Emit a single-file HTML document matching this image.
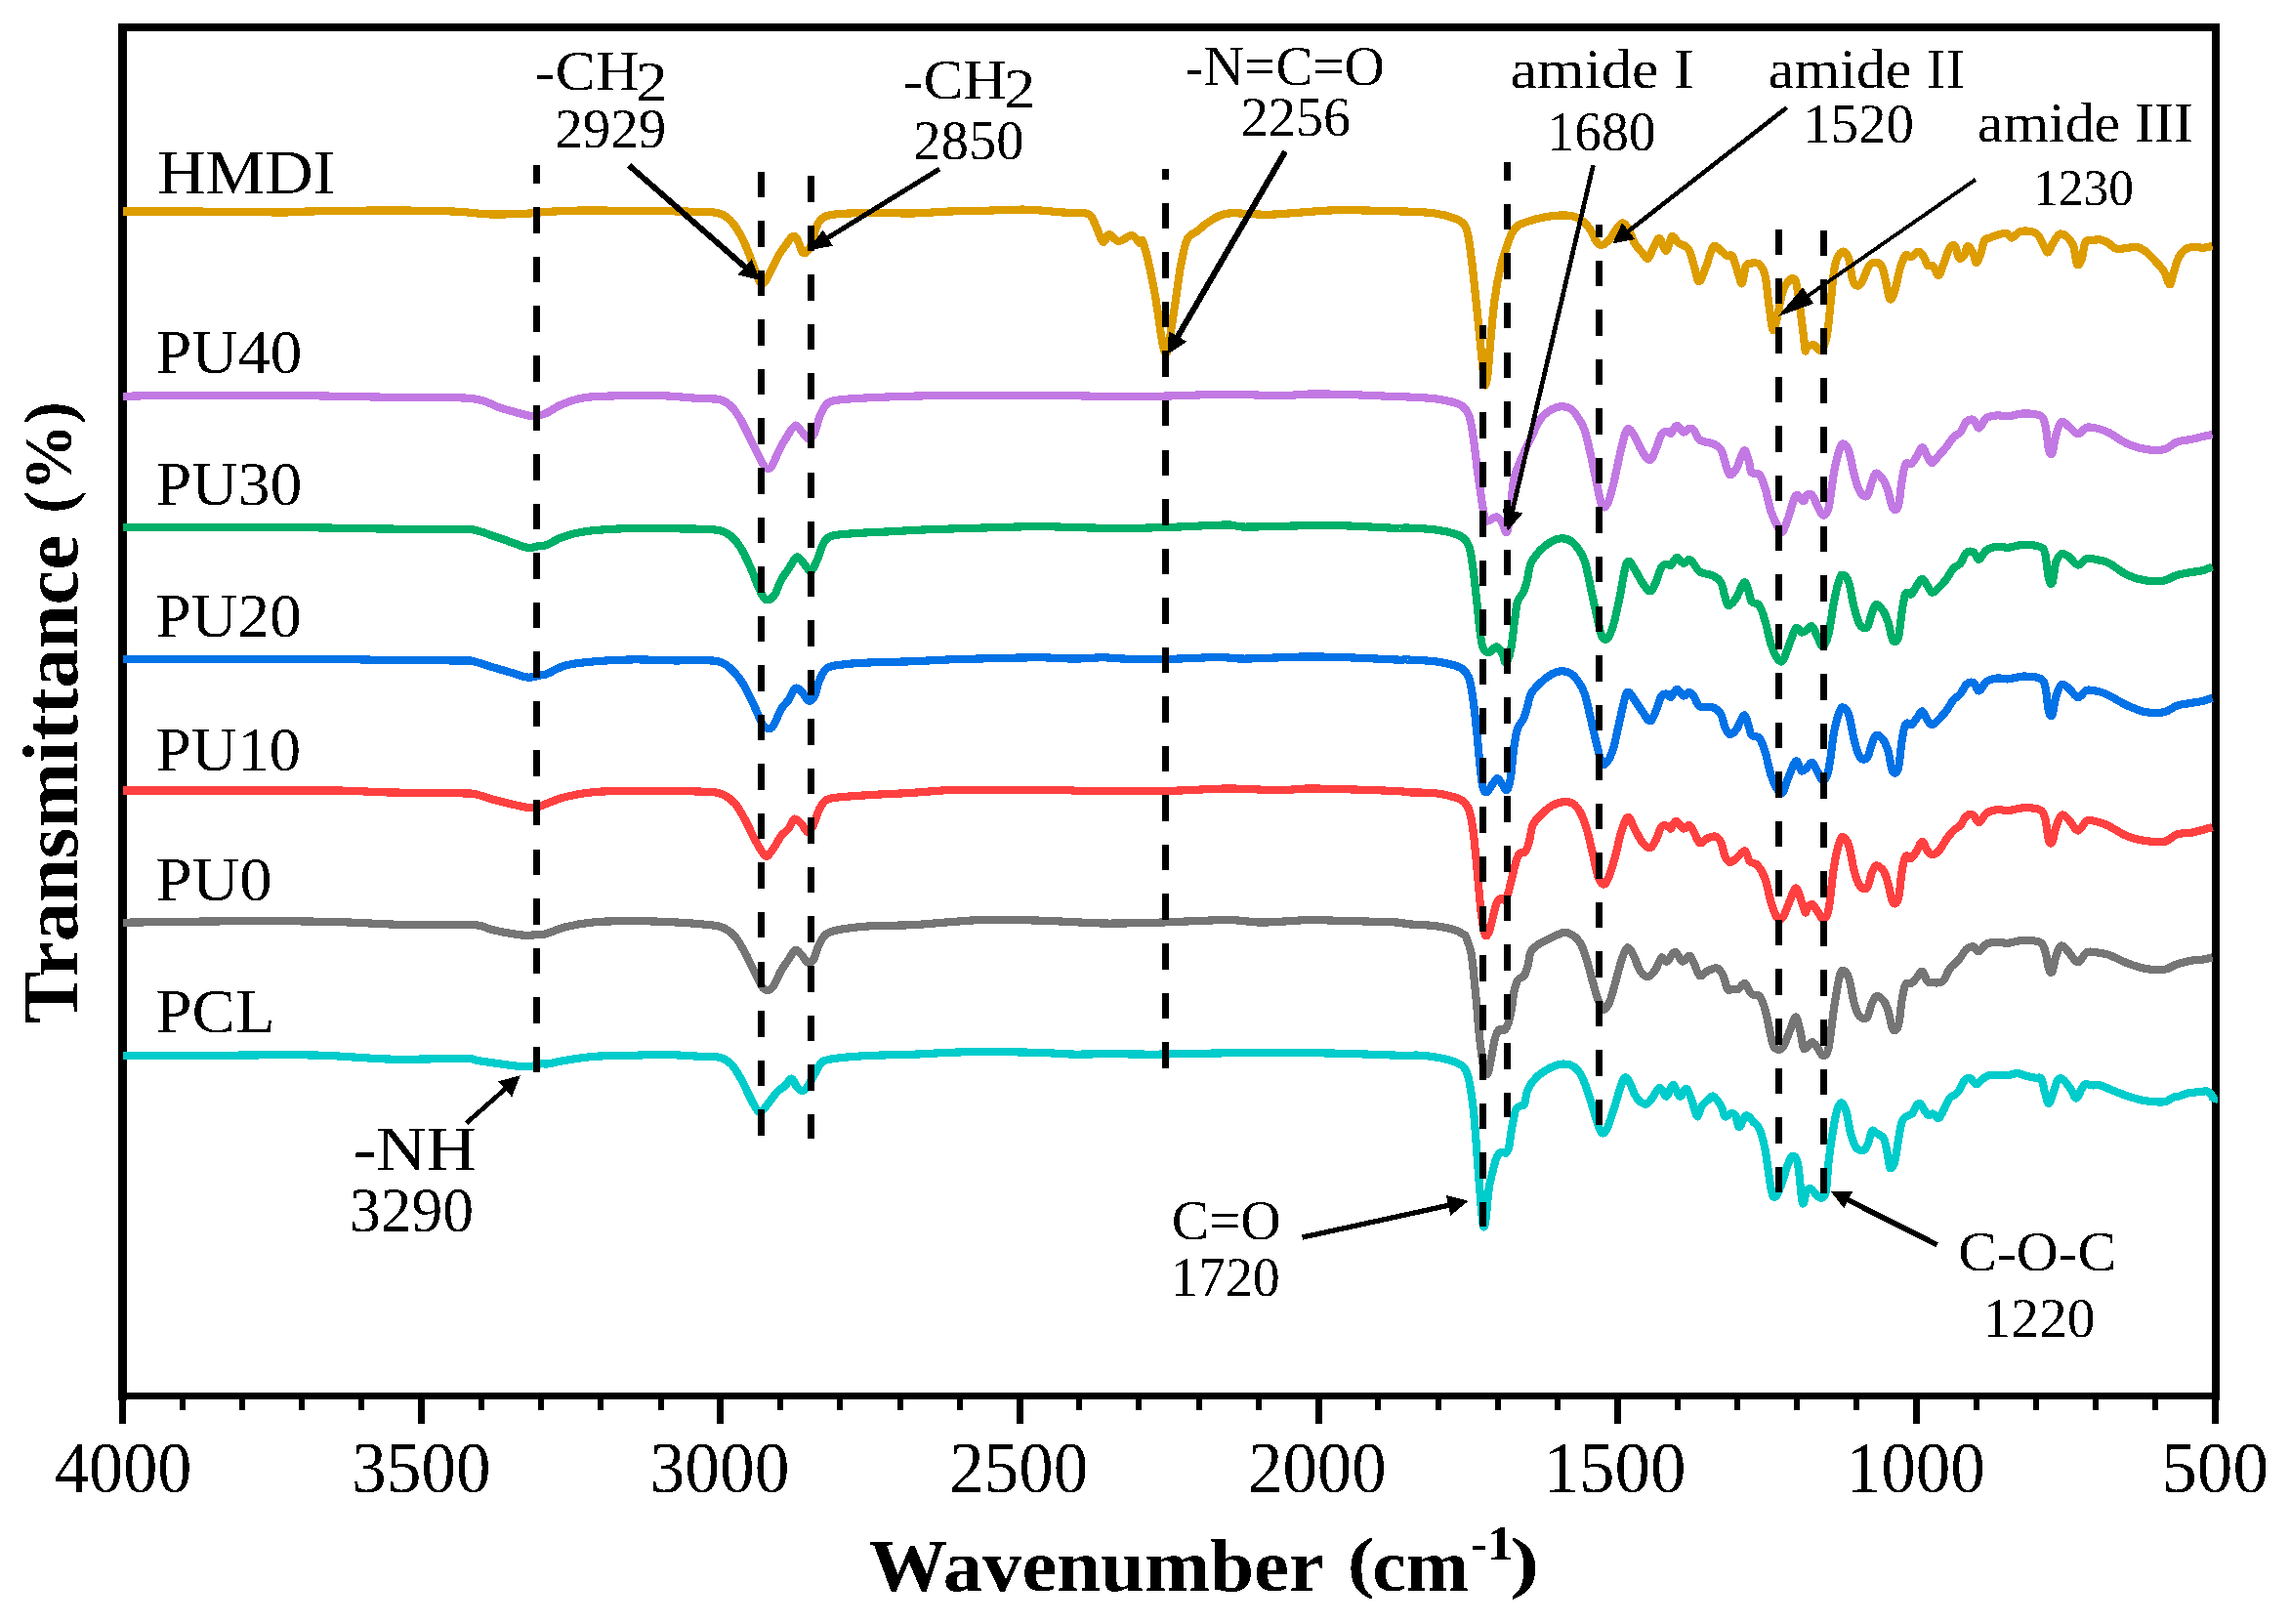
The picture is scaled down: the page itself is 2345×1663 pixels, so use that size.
<!DOCTYPE html>
<html><head><meta charset="utf-8"><title>FTIR spectra</title>
<style>html,body{margin:0;padding:0;background:#fff;}svg{display:block;}text{font-family:'Liberation Serif', 'Times New Roman', serif;fill:#000;}</style>
</head><body>
<svg xmlns="http://www.w3.org/2000/svg" width="2345" height="1663" viewBox="0 0 2345 1663" shape-rendering="crispEdges">
<rect width="2345" height="1663" fill="#fff"/>
<path d="M121 24H2273V32H121Z M121 1426H2273V1433H121Z M121 24H130V1434H121Z M2265 24H2273V1434H2265Z" fill="#000"/>
<path d="M122 1433H129V1458H122Z M184 1433H190V1444H184Z M245 1433H251V1444H245Z M306 1433H312V1444H306Z M367 1433H373V1444H367Z M428 1433H435V1458H428Z M490 1433H496V1444H490Z M551 1433H557V1444H551Z M612 1433H618V1444H612Z M674 1433H680V1444H674Z M734 1433H741V1458H734Z M796 1433H802V1444H796Z M857 1433H863V1444H857Z M919 1433H925V1444H919Z M980 1433H986V1444H980Z M1041 1433H1048V1458H1041Z M1102 1433H1108V1444H1102Z M1163 1433H1169V1444H1163Z M1225 1433H1231V1444H1225Z M1286 1433H1292V1444H1286Z M1347 1433H1354V1458H1347Z M1408 1433H1414V1444H1408Z M1470 1433H1476V1444H1470Z M1531 1433H1537V1444H1531Z M1592 1433H1598V1444H1592Z M1653 1433H1660V1458H1653Z M1715 1433H1721V1444H1715Z M1776 1433H1782V1444H1776Z M1837 1433H1843V1444H1837Z M1898 1433H1904V1444H1898Z M1959 1433H1966V1458H1959Z M2021 1433H2027V1444H2021Z M2082 1433H2088V1444H2082Z M2143 1433H2149V1444H2143Z M2204 1433H2210V1444H2204Z M2265 1433H2272V1458H2265Z" fill="#000"/>
<path d="M126.0 216.5C138.1 216.5 171.8 216.3 198.6 216.5C225.4 216.7 267.4 217.5 287.0 217.5C306.6 217.5 298.5 216.8 316.5 216.5C334.5 216.2 370.5 215.5 395.1 215.5C419.7 215.5 445.9 215.8 463.9 216.5C481.9 217.2 490.1 219.2 503.2 219.5C516.3 219.8 533.0 218.9 542.5 218.5C552.0 218.1 550.5 217.4 560.0 216.9C569.5 216.4 582.9 215.6 599.3 215.5C615.7 215.4 641.9 215.9 658.3 216.1C674.7 216.3 685.5 216.3 697.6 216.5C709.7 216.7 723.5 216.7 731.0 217.5C738.5 218.3 739.2 219.1 742.8 221.4C746.4 223.7 749.3 226.7 752.6 231.3C755.9 235.9 759.5 242.8 762.4 249.0C765.3 255.2 768.0 262.7 770.3 268.6C772.6 274.5 774.7 280.7 776.2 284.3C777.7 287.9 778.0 289.4 779.1 290.2C780.2 291.0 781.2 291.5 783.0 289.2C784.8 286.9 787.4 281.2 789.9 276.5C792.4 271.8 795.3 265.0 797.8 260.7C800.3 256.4 802.4 254.0 804.7 250.9C807.0 247.8 809.5 243.1 811.5 242.1C813.5 241.1 814.8 242.4 816.4 245.0C818.0 247.6 819.8 255.7 821.4 257.8C823.0 259.9 824.7 259.3 826.3 257.8C827.9 256.3 829.7 252.8 831.2 249.0C832.7 245.2 833.5 239.3 835.1 235.2C836.7 231.1 837.7 227.0 841.0 224.4C844.3 221.8 845.9 220.6 854.8 219.5C863.6 218.4 881.0 218.1 894.1 217.9C907.2 217.7 920.3 218.7 933.4 218.5C946.5 218.3 961.6 216.9 972.7 216.5C983.8 216.1 987.3 216.4 1000.0 216.1C1012.7 215.8 1034.4 214.4 1049.1 214.6C1063.8 214.8 1077.9 216.8 1088.4 217.5C1098.9 218.2 1107.1 217.7 1112.0 218.5C1116.9 219.3 1115.9 219.6 1117.9 222.4C1119.9 225.2 1121.8 230.9 1123.8 235.2C1125.8 239.5 1127.7 247.2 1129.7 248.0C1131.7 248.8 1133.0 240.3 1135.6 240.1C1138.2 239.9 1141.5 246.8 1145.4 247.0C1149.3 247.2 1155.6 240.8 1159.2 241.1C1162.8 241.4 1165.2 248.0 1167.0 249.0C1168.8 250.0 1168.4 243.3 1170.0 247.0C1171.6 250.7 1174.4 261.5 1176.6 271.0C1178.8 280.5 1180.9 291.1 1183.1 303.8C1185.3 316.5 1188.1 337.9 1189.7 347.4C1191.3 356.8 1191.8 359.0 1192.9 360.5C1194.0 362.0 1194.6 363.8 1196.2 356.2C1197.8 348.6 1200.6 328.9 1202.8 314.7C1205.0 300.5 1207.1 282.6 1209.3 271.0C1211.5 259.4 1213.0 250.6 1215.9 244.8C1218.8 239.0 1223.2 239.0 1226.8 236.1C1230.4 233.2 1232.6 230.2 1237.7 227.3C1242.8 224.4 1246.8 219.9 1257.3 218.6C1267.8 217.3 1282.8 220.2 1301.0 219.7C1319.2 219.1 1344.7 215.9 1366.5 215.3C1388.3 214.8 1419.8 216.2 1432.0 216.4C1444.2 216.6 1433.8 216.2 1440.0 216.5C1446.2 216.8 1461.3 217.3 1469.5 218.5C1477.7 219.7 1484.2 221.6 1489.1 223.4C1494.0 225.2 1496.7 226.7 1499.0 229.3C1501.3 231.9 1501.6 233.2 1502.9 239.1C1504.2 245.0 1505.5 254.5 1506.8 264.7C1508.1 274.8 1509.4 287.6 1510.7 300.0C1512.0 312.4 1513.4 326.2 1514.7 339.3C1516.0 352.4 1517.6 369.4 1518.6 378.6C1519.6 387.8 1519.8 393.7 1520.6 394.4C1521.4 395.1 1522.5 390.5 1523.5 382.6C1524.5 374.7 1525.3 359.6 1526.5 347.2C1527.7 334.8 1528.8 320.0 1530.4 307.9C1532.0 295.8 1534.3 283.4 1536.3 274.5C1538.3 265.6 1540.2 260.7 1542.2 254.8C1544.2 248.9 1546.1 243.0 1548.1 239.1C1550.1 235.2 1551.0 233.4 1554.0 231.3C1557.0 229.2 1561.2 227.9 1565.8 226.4C1570.4 224.9 1576.3 223.4 1581.5 222.4C1586.7 221.4 1592.3 220.7 1597.2 220.5C1602.1 220.3 1607.1 220.4 1611.0 221.4C1614.9 222.4 1617.9 224.1 1620.8 226.4C1623.7 228.7 1626.3 231.8 1628.6 235.2C1630.9 238.6 1632.5 244.4 1634.5 247.0C1636.5 249.6 1638.1 251.2 1640.4 250.9C1642.7 250.6 1645.7 247.9 1648.3 245.0C1650.9 242.1 1653.9 236.0 1656.2 233.2C1658.5 230.4 1660.1 228.0 1662.1 228.3C1664.0 228.6 1666.0 231.8 1667.9 235.2C1669.9 238.6 1671.5 245.1 1673.8 249.0C1676.1 252.9 1679.4 256.2 1681.7 258.8C1684.0 261.4 1685.6 265.7 1687.6 264.7C1689.6 263.7 1691.5 256.4 1693.5 252.9C1695.5 249.5 1697.3 243.3 1699.4 244.0C1701.5 244.7 1704.2 257.1 1706.3 256.8C1708.4 256.5 1710.1 243.4 1712.2 242.1C1714.3 240.8 1716.2 246.9 1719.0 249.0C1721.8 251.1 1726.3 250.9 1728.9 254.8C1731.5 258.7 1733.0 266.9 1734.8 272.5C1736.6 278.1 1737.8 288.0 1739.7 288.3C1741.7 288.6 1744.0 280.4 1746.5 274.5C1749.0 268.6 1751.8 255.8 1754.4 252.9C1757.0 250.0 1760.0 255.3 1762.3 256.8C1764.6 258.3 1766.2 260.7 1768.2 261.7C1770.2 262.7 1772.1 259.6 1774.1 262.7C1776.1 265.8 1778.4 275.8 1780.0 280.4C1781.6 285.0 1782.6 291.5 1783.9 290.2C1785.2 288.9 1786.2 275.9 1787.8 272.5C1789.4 269.1 1791.4 269.9 1793.7 269.6C1796.0 269.3 1799.3 268.5 1801.6 270.6C1803.9 272.7 1805.9 275.5 1807.5 282.4C1809.1 289.3 1810.1 302.6 1811.4 311.8C1812.7 321.0 1814.0 334.8 1815.3 337.4C1816.6 340.0 1817.6 333.8 1819.3 327.6C1821.0 321.4 1822.9 306.9 1825.2 300.0C1827.5 293.1 1830.7 288.2 1833.0 286.3C1835.3 284.4 1837.3 284.1 1838.9 288.3C1840.5 292.6 1841.5 302.6 1842.8 311.8C1844.1 321.0 1845.8 335.4 1846.8 343.3C1847.8 351.2 1848.2 357.0 1848.7 359.0C1849.2 361.0 1848.5 356.1 1850.0 355.2C1851.5 354.3 1855.0 352.8 1857.5 353.4C1860.0 354.0 1862.8 360.6 1865.0 359.0C1867.2 357.4 1869.1 351.8 1870.7 344.0C1872.3 336.2 1873.2 323.4 1874.4 312.1C1875.7 300.8 1877.0 284.5 1878.2 276.4C1879.5 268.2 1880.3 266.3 1881.9 263.2C1883.5 260.1 1885.7 257.3 1887.6 257.6C1889.5 257.9 1891.7 260.4 1893.2 265.1C1894.8 269.8 1895.7 281.3 1896.9 285.8C1898.2 290.3 1899.1 291.7 1900.7 292.3C1902.3 292.9 1904.1 292.8 1906.3 289.5C1908.5 286.2 1911.6 276.0 1913.8 272.6C1916.0 269.2 1917.3 268.9 1919.5 268.9C1921.7 268.9 1924.8 268.2 1927.0 272.6C1929.2 277.0 1931.2 289.6 1932.6 295.2C1934.0 300.8 1934.2 305.8 1935.4 306.4C1936.7 307.0 1938.4 304.2 1940.1 298.9C1941.8 293.6 1943.9 280.8 1945.8 274.5C1947.7 268.2 1949.5 263.3 1951.4 261.4C1953.3 259.5 1954.8 263.8 1957.0 263.2C1959.2 262.6 1962.3 257.6 1964.5 257.6C1966.7 257.6 1968.6 260.9 1970.2 263.2C1971.8 265.5 1972.3 270.1 1973.9 271.7C1975.5 273.3 1977.7 270.9 1979.6 272.6C1981.5 274.3 1983.3 282.6 1985.2 282.0C1987.1 281.4 1988.9 273.6 1990.8 268.9C1992.7 264.2 1994.6 256.6 1996.5 253.8C1998.4 251.0 2000.5 250.3 2002.1 252.0C2003.7 253.7 2004.3 262.6 2005.9 264.2C2007.5 265.8 2010.0 263.4 2011.5 261.4C2013.0 259.4 2013.6 252.2 2015.2 252.0C2016.8 251.8 2019.5 257.6 2020.9 260.4C2022.3 263.2 2022.5 269.0 2023.7 268.9C2025.0 268.8 2027.0 263.3 2028.4 259.5C2029.8 255.7 2030.5 249.0 2032.1 246.3C2033.7 243.6 2035.6 244.4 2037.8 243.5C2040.0 242.6 2042.5 241.5 2045.3 240.7C2048.1 239.9 2052.2 238.3 2054.7 238.8C2057.2 239.3 2057.8 243.8 2060.3 243.5C2062.8 243.2 2065.6 237.7 2069.7 236.9C2073.8 236.1 2080.9 236.6 2084.7 238.8C2088.4 241.0 2090.2 246.8 2092.2 250.1C2094.2 253.4 2095.3 258.5 2096.9 258.5C2098.5 258.5 2099.6 253.2 2101.6 250.1C2103.6 247.0 2106.6 241.1 2109.1 239.8C2111.6 238.6 2114.2 240.6 2116.6 242.6C2118.9 244.6 2121.5 247.3 2123.2 252.0C2124.9 256.7 2125.6 268.5 2127.0 270.7C2128.4 272.9 2130.3 268.9 2131.7 265.1C2133.1 261.4 2133.8 251.3 2135.4 248.2C2137.0 245.1 2138.5 246.8 2141.0 246.3C2143.5 245.8 2147.6 245.1 2150.4 245.4C2153.2 245.7 2155.1 246.6 2157.9 248.2C2160.7 249.8 2163.9 253.9 2167.3 254.8C2170.8 255.7 2175.2 254.1 2178.6 253.8C2182.0 253.5 2184.9 252.3 2188.0 252.9C2191.1 253.5 2194.3 255.3 2197.4 257.6C2200.5 260.0 2203.7 263.6 2206.8 267.0C2209.9 270.4 2213.7 274.2 2216.2 278.3C2218.7 282.4 2220.2 291.1 2221.8 291.4C2223.4 291.7 2223.9 284.8 2225.5 280.1C2227.1 275.4 2229.0 267.4 2231.2 263.2C2233.4 259.0 2235.9 256.5 2238.7 254.8C2241.5 253.1 2245.3 253.1 2248.1 252.9C2250.9 252.7 2252.7 254.0 2255.6 253.8C2258.5 253.7 2263.8 252.3 2265.5 252.0" fill="none" stroke="#DD9D00" stroke-width="8.2" stroke-linejoin="round" stroke-linecap="butt"/>
<path d="M126.0 405.8C138.1 405.6 166.8 404.7 198.6 404.6C230.3 404.5 280.5 404.8 316.5 405.2C352.5 405.6 387.0 406.6 414.8 407.1C442.6 407.6 467.1 406.3 483.5 408.1C499.9 409.9 503.2 414.9 513.0 417.9C522.8 420.8 536.4 424.5 542.5 425.8C548.6 427.1 546.5 426.3 549.4 425.8C552.3 425.3 555.6 424.9 560.0 422.9C564.4 420.9 569.2 416.6 575.7 414.0C582.2 411.4 588.8 408.6 599.3 407.1C609.8 405.6 625.5 405.5 638.6 405.2C651.7 404.9 664.8 404.7 677.9 405.2C691.0 405.7 707.4 407.5 717.2 408.1C727.0 408.8 731.7 407.8 736.9 409.1C742.1 410.4 745.0 412.6 748.6 416.0C752.2 419.4 755.2 424.1 758.5 429.7C761.8 435.3 765.0 442.8 768.3 449.4C771.6 455.9 775.5 464.1 778.1 469.0C780.7 473.9 782.0 477.4 784.0 478.9C786.0 480.4 787.6 480.8 789.9 477.9C792.2 474.9 795.2 466.3 797.8 461.2C800.4 456.1 802.8 451.7 805.6 447.4C808.4 443.1 811.9 436.4 814.5 435.6C817.1 434.8 819.1 440.2 821.4 442.5C823.7 444.8 826.1 449.2 828.2 449.4C830.3 449.6 832.3 447.1 834.1 443.5C835.9 439.9 837.2 432.4 839.0 427.8C840.8 423.2 842.3 418.9 844.9 416.0C847.5 413.1 846.6 411.6 854.8 410.1C863.0 408.6 877.7 407.9 894.1 407.1C910.5 406.3 935.4 405.5 953.0 405.2C970.6 404.9 982.3 405.2 1000.0 405.2C1017.7 405.2 1042.3 405.2 1059.0 405.2C1075.7 405.2 1084.4 405.1 1100.0 405.3C1115.6 405.5 1134.9 406.2 1152.4 406.2C1169.9 406.2 1187.3 405.7 1204.8 405.3C1222.3 404.9 1239.7 403.6 1257.2 403.6C1274.7 403.6 1295.9 405.3 1309.6 405.3C1323.3 405.3 1328.2 403.8 1339.3 403.6C1350.4 403.4 1360.6 403.5 1376.0 403.9C1391.4 404.3 1421.2 405.8 1431.9 406.2C1442.6 406.6 1433.7 406.0 1440.0 406.4C1446.3 406.8 1461.3 407.3 1469.5 408.3C1477.7 409.3 1484.2 410.7 1489.1 412.2C1494.0 413.7 1496.4 414.7 1499.0 417.2C1501.6 419.7 1503.2 421.8 1504.8 427.0C1506.4 432.2 1507.5 439.8 1508.8 448.6C1510.1 457.4 1511.4 470.2 1512.7 480.0C1514.0 489.8 1515.3 499.1 1516.6 507.6C1517.9 516.1 1519.3 526.9 1520.6 531.1C1521.9 535.4 1522.5 533.4 1524.5 533.1C1526.5 532.8 1530.1 528.9 1532.4 529.2C1534.7 529.5 1536.5 532.5 1538.3 535.1C1540.1 537.7 1541.7 547.5 1543.2 544.9C1544.7 542.3 1546.0 528.1 1547.1 519.3C1548.2 510.4 1548.5 499.3 1550.0 491.8C1551.5 484.3 1553.3 480.7 1555.9 474.1C1558.5 467.6 1562.2 460.0 1565.8 452.5C1569.4 445.0 1573.7 434.6 1577.6 429.0C1581.5 423.4 1585.7 421.2 1589.3 419.1C1592.9 417.0 1595.9 416.2 1599.2 416.2C1602.5 416.2 1606.0 417.0 1609.0 419.1C1612.0 421.2 1614.6 425.4 1616.9 429.0C1619.2 432.6 1620.8 434.8 1622.8 440.7C1624.8 446.6 1626.6 455.8 1628.6 464.3C1630.5 472.8 1632.5 483.0 1634.5 491.8C1636.5 500.6 1638.4 513.5 1640.4 517.4C1642.4 521.3 1644.3 519.0 1646.3 515.4C1648.3 511.8 1650.2 503.6 1652.2 495.8C1654.2 488.0 1656.1 476.8 1658.1 468.3C1660.1 459.8 1662.4 449.6 1664.0 444.7C1665.6 439.8 1666.3 438.5 1667.9 438.8C1669.5 439.1 1671.5 442.7 1673.8 446.6C1676.1 450.5 1679.1 458.3 1681.7 462.4C1684.3 466.5 1687.3 471.5 1689.6 471.2C1691.9 470.9 1693.5 464.8 1695.5 460.4C1697.5 456.0 1699.5 447.8 1701.4 444.7C1703.4 441.6 1705.6 441.9 1707.2 441.7C1708.8 441.5 1709.6 444.7 1711.2 443.7C1712.8 442.7 1715.0 436.0 1717.1 435.8C1719.2 435.6 1721.9 442.2 1724.0 442.7C1726.1 443.2 1728.0 439.1 1729.8 438.8C1731.6 438.5 1733.0 438.7 1734.8 440.7C1736.6 442.7 1737.4 448.3 1740.7 450.6C1744.0 452.9 1750.8 452.9 1754.4 454.5C1758.0 456.1 1760.3 457.4 1762.3 460.4C1764.3 463.3 1764.7 467.9 1766.2 472.2C1767.7 476.4 1769.1 484.6 1771.1 485.9C1773.1 487.2 1775.5 484.1 1778.0 480.0C1780.5 475.9 1783.8 462.7 1785.9 461.4C1788.0 460.1 1789.5 468.4 1790.8 472.2C1792.1 476.0 1791.9 481.7 1793.7 484.0C1795.5 486.3 1799.3 483.3 1801.6 485.9C1803.9 488.5 1805.5 493.5 1807.5 499.7C1809.5 505.9 1811.1 516.4 1813.4 523.3C1815.7 530.2 1819.2 537.4 1821.2 541.0C1823.2 544.6 1823.6 546.5 1825.2 544.9C1826.8 543.2 1828.7 537.3 1831.0 531.1C1833.3 524.9 1836.3 510.6 1838.9 507.6C1841.5 504.7 1845.0 513.5 1846.8 513.4C1848.6 513.3 1848.5 508.2 1850.0 507.1C1851.5 506.1 1853.7 505.2 1855.6 507.1C1857.5 509.0 1859.4 514.9 1861.3 518.3C1863.2 521.7 1865.0 527.4 1866.9 527.7C1868.8 528.0 1870.6 527.7 1872.5 520.2C1874.4 512.7 1876.3 492.7 1878.2 482.7C1880.1 472.7 1882.2 464.8 1883.8 460.1C1885.4 455.4 1886.0 454.2 1887.6 454.5C1889.2 454.8 1891.3 456.7 1893.2 462.0C1895.1 467.3 1896.9 479.5 1898.8 486.4C1900.7 493.3 1902.3 499.7 1904.5 503.3C1906.7 506.9 1910.0 509.6 1912.0 508.0C1914.0 506.4 1915.1 497.8 1916.7 493.9C1918.3 490.0 1919.4 484.8 1921.4 484.5C1923.4 484.2 1926.9 489.0 1928.9 492.1C1930.9 495.2 1932.0 498.6 1933.6 503.3C1935.2 508.0 1936.6 517.7 1938.3 520.2C1940.0 522.7 1942.4 523.0 1943.9 518.3C1945.5 513.6 1946.3 499.3 1947.6 492.1C1948.8 484.9 1949.8 478.0 1951.4 475.2C1953.0 472.4 1955.1 476.5 1957.0 475.2C1958.9 473.9 1960.8 470.4 1962.7 467.6C1964.6 464.8 1966.4 458.3 1968.3 458.3C1970.2 458.3 1972.2 465.0 1973.9 467.6C1975.6 470.2 1976.7 474.4 1978.6 474.2C1980.5 474.0 1982.8 469.3 1985.2 466.7C1987.6 464.1 1990.2 461.4 1992.7 458.3C1995.2 455.2 1997.7 450.6 2000.2 447.9C2002.7 445.2 2005.5 444.9 2007.7 442.3C2009.9 439.7 2011.2 434.0 2013.4 432.0C2015.6 430.0 2018.7 429.0 2020.9 430.1C2023.1 431.2 2024.3 438.8 2026.5 438.5C2028.7 438.2 2030.9 430.4 2034.0 428.2C2037.1 426.0 2041.5 425.7 2045.3 425.4C2049.1 425.1 2052.1 426.6 2056.5 426.3C2060.9 426.0 2066.3 423.6 2071.6 423.5C2076.9 423.4 2084.8 423.7 2088.5 425.4C2092.2 427.1 2092.5 428.0 2094.1 433.8C2095.7 439.6 2096.7 455.1 2097.9 460.1C2099.2 465.1 2100.3 466.4 2101.6 463.9C2102.8 461.4 2103.8 450.4 2105.4 445.1C2107.0 439.8 2108.8 433.4 2111.0 432.0C2113.2 430.6 2115.7 434.7 2118.5 436.7C2121.3 438.7 2124.8 444.0 2127.9 444.2C2131.0 444.4 2133.6 438.4 2137.3 437.6C2141.1 436.8 2146.7 438.6 2150.4 439.5C2154.2 440.4 2155.1 440.7 2159.8 443.2C2164.5 445.7 2172.3 451.7 2178.6 454.5C2184.9 457.3 2191.1 459.2 2197.4 460.1C2203.7 461.0 2210.9 461.4 2216.2 460.1C2221.5 458.9 2224.6 454.3 2229.3 452.6C2234.0 450.9 2239.9 450.7 2244.3 449.8C2248.7 448.9 2252.1 447.8 2255.6 447.0C2259.1 446.2 2263.8 445.4 2265.5 445.1" fill="none" stroke="#C279E3" stroke-width="8.2" stroke-linejoin="round" stroke-linecap="butt"/>
<path d="M126.0 540.3C138.1 540.3 166.8 540.3 198.6 540.3C230.3 540.3 287.0 540.1 316.5 540.3C346.0 540.5 350.9 541.0 375.5 541.3C400.1 541.6 445.9 542.1 463.9 542.2C481.9 542.4 476.9 541.2 483.5 542.2C490.1 543.2 496.6 546.0 503.2 548.1C509.8 550.2 516.6 552.9 522.8 555.0C529.0 557.1 535.6 560.2 540.5 560.9C545.4 561.6 549.0 559.5 552.3 559.0C555.5 558.5 556.1 559.5 560.0 558.0C563.9 556.5 569.2 552.4 575.7 550.1C582.2 547.8 588.8 545.7 599.3 544.2C609.8 542.7 625.5 541.8 638.6 541.3C651.7 540.8 664.8 541.2 677.9 541.3C691.0 541.4 707.4 541.4 717.2 541.7C727.0 542.0 731.7 542.0 736.9 543.2C742.1 544.4 745.0 546.2 748.6 549.1C752.2 552.0 755.2 555.6 758.5 560.9C761.8 566.1 765.3 574.0 768.3 580.6C771.2 587.2 773.9 595.0 776.2 600.2C778.5 605.4 780.2 609.7 782.1 612.0C784.0 614.3 786.0 614.6 787.9 614.0C789.8 613.4 791.8 611.4 793.8 608.1C795.8 604.8 797.4 598.6 799.7 594.3C802.0 590.0 805.0 586.4 807.6 582.5C810.2 578.6 813.2 572.0 815.5 570.7C817.8 569.4 819.4 572.7 821.4 574.7C823.4 576.7 825.6 580.9 827.2 582.5C828.8 584.1 829.6 586.1 831.2 584.5C832.9 582.9 835.1 577.3 837.1 572.7C839.1 568.1 840.7 560.9 843.0 557.0C845.3 553.1 845.6 550.9 850.8 549.1C856.0 547.3 863.9 547.0 874.4 546.2C884.9 545.4 900.6 544.9 913.7 544.2C926.8 543.5 937.3 542.8 953.0 542.2C968.7 541.6 989.3 541.0 1007.7 540.5C1026.1 540.0 1048.2 539.2 1063.6 539.1C1079.0 539.0 1085.2 539.8 1100.0 540.1C1114.8 540.4 1134.9 541.1 1152.4 541.0C1169.9 540.9 1187.3 540.2 1204.8 539.6C1222.3 539.0 1245.5 537.5 1257.2 537.5C1268.9 537.5 1261.6 539.5 1274.7 539.6C1287.8 539.7 1318.9 538.5 1335.8 538.3C1352.7 538.1 1360.0 537.8 1376.0 538.3C1392.0 538.8 1421.2 540.6 1431.9 541.0C1442.6 541.4 1433.7 540.3 1440.0 540.5C1446.3 540.7 1461.3 541.4 1469.5 542.4C1477.7 543.4 1484.2 544.9 1489.1 546.4C1494.0 547.9 1496.4 548.8 1499.0 551.3C1501.6 553.8 1503.2 555.5 1504.8 561.1C1506.4 566.7 1507.5 574.9 1508.8 584.7C1510.1 594.5 1511.5 609.5 1512.7 620.0C1513.9 630.5 1514.7 640.4 1515.7 647.6C1516.7 654.8 1517.1 659.9 1518.6 663.3C1520.1 666.7 1522.2 668.4 1524.5 668.2C1526.8 668.0 1530.1 662.1 1532.4 662.3C1534.7 662.5 1536.7 666.4 1538.3 669.2C1539.9 672.0 1540.7 679.7 1542.2 679.0C1543.7 678.3 1545.6 672.4 1547.1 665.2C1548.6 658.0 1549.8 644.0 1551.0 635.8C1552.2 627.6 1552.5 621.0 1554.0 616.1C1555.5 611.2 1558.3 609.9 1559.9 606.3C1561.5 602.7 1562.5 599.4 1563.8 594.5C1565.1 589.6 1565.4 582.0 1567.7 576.8C1570.0 571.6 1574.0 566.9 1577.6 563.1C1581.2 559.3 1585.7 556.2 1589.3 554.2C1592.9 552.2 1595.9 551.3 1599.2 551.3C1602.5 551.3 1606.0 552.2 1609.0 554.2C1612.0 556.2 1614.6 559.7 1616.9 563.1C1619.2 566.5 1620.8 568.6 1622.8 574.8C1624.8 581.0 1626.6 591.5 1628.6 600.4C1630.5 609.2 1632.5 619.4 1634.5 627.9C1636.5 636.4 1638.4 647.2 1640.4 651.5C1642.4 655.8 1644.3 655.4 1646.3 653.4C1648.3 651.4 1650.2 646.2 1652.2 639.7C1654.2 633.2 1656.1 623.6 1658.1 614.1C1660.1 604.6 1662.4 589.2 1664.0 582.7C1665.6 576.2 1666.3 574.8 1667.9 574.8C1669.5 574.8 1671.5 579.1 1673.8 582.7C1676.1 586.3 1679.1 592.7 1681.7 596.5C1684.3 600.3 1687.3 605.3 1689.6 605.3C1691.9 605.3 1693.5 600.6 1695.5 596.5C1697.5 592.4 1699.5 583.8 1701.4 580.7C1703.4 577.6 1705.6 578.1 1707.2 577.8C1708.8 577.5 1709.6 579.9 1711.2 578.8C1712.8 577.6 1715.0 571.2 1717.1 570.9C1719.2 570.6 1721.9 576.5 1724.0 576.8C1726.1 577.1 1728.0 572.7 1729.8 572.9C1731.6 573.1 1733.0 575.7 1734.8 577.8C1736.6 579.9 1737.4 583.7 1740.7 585.7C1744.0 587.7 1750.8 587.8 1754.4 589.6C1758.0 591.4 1760.3 593.1 1762.3 596.5C1764.3 599.9 1764.9 606.3 1766.2 610.2C1767.5 614.1 1768.1 619.7 1770.1 620.0C1772.1 620.3 1775.4 616.1 1778.0 612.2C1780.6 608.3 1783.8 597.5 1785.9 596.5C1788.0 595.5 1789.5 603.0 1790.8 606.3C1792.1 609.6 1791.9 613.8 1793.7 616.1C1795.5 618.4 1799.3 616.7 1801.6 620.0C1803.9 623.3 1805.5 629.2 1807.5 635.8C1809.5 642.3 1811.4 653.1 1813.4 659.3C1815.4 665.5 1817.3 670.1 1819.3 673.1C1821.3 676.1 1823.2 678.6 1825.2 677.0C1827.2 675.4 1828.7 668.9 1831.0 663.3C1833.3 657.7 1836.6 646.2 1838.9 643.6C1841.2 641.0 1843.0 647.3 1844.8 647.6C1846.6 647.9 1848.2 646.2 1850.0 645.2C1851.8 644.2 1853.7 640.1 1855.6 641.4C1857.5 642.6 1859.4 649.2 1861.3 652.7C1863.2 656.2 1865.0 662.7 1866.9 662.1C1868.8 661.5 1870.6 656.8 1872.5 649.0C1874.4 641.2 1876.3 624.6 1878.2 615.2C1880.1 605.8 1882.2 597.0 1883.8 592.6C1885.4 588.2 1886.0 588.3 1887.6 588.9C1889.2 589.5 1891.3 590.8 1893.2 596.4C1895.1 602.0 1896.9 615.5 1898.8 622.7C1900.7 629.9 1902.3 636.3 1904.5 639.6C1906.7 642.9 1910.0 644.3 1912.0 642.4C1914.0 640.5 1915.1 632.2 1916.7 628.3C1918.3 624.4 1919.4 619.2 1921.4 618.9C1923.4 618.6 1926.9 623.3 1928.9 626.4C1930.9 629.5 1932.0 632.9 1933.6 637.7C1935.2 642.6 1936.6 653.0 1938.3 655.5C1940.0 658.0 1942.4 657.6 1943.9 652.7C1945.5 647.9 1946.3 633.9 1947.6 626.4C1948.8 618.9 1949.8 610.6 1951.4 607.6C1953.0 604.6 1955.1 609.9 1957.0 608.6C1958.9 607.4 1960.8 602.8 1962.7 600.1C1964.6 597.4 1966.4 592.6 1968.3 592.6C1970.2 592.6 1972.2 597.8 1973.9 600.1C1975.6 602.5 1976.7 606.4 1978.6 606.7C1980.5 607.0 1982.8 604.2 1985.2 602.0C1987.6 599.8 1990.2 596.9 1992.7 593.6C1995.2 590.3 1997.7 585.1 2000.2 582.3C2002.7 579.5 2005.5 579.4 2007.7 576.7C2009.9 574.0 2011.2 568.2 2013.4 566.3C2015.6 564.4 2018.7 564.3 2020.9 565.4C2023.1 566.5 2024.3 573.2 2026.5 572.9C2028.7 572.6 2030.9 565.7 2034.0 563.5C2037.1 561.3 2041.5 560.3 2045.3 559.8C2049.1 559.3 2052.1 561.0 2056.5 560.7C2060.9 560.4 2066.3 558.0 2071.6 557.9C2076.9 557.8 2084.8 558.4 2088.5 559.8C2092.2 561.2 2092.5 560.8 2094.1 566.3C2095.7 571.8 2096.7 587.6 2097.9 592.6C2099.2 597.6 2100.3 599.2 2101.6 596.4C2102.8 593.6 2103.8 580.6 2105.4 575.7C2107.0 570.9 2108.8 568.2 2111.0 567.3C2113.2 566.4 2115.7 568.2 2118.5 570.1C2121.3 572.0 2124.8 578.2 2127.9 578.5C2131.0 578.8 2133.6 572.8 2137.3 572.0C2141.1 571.2 2146.7 573.0 2150.4 573.8C2154.2 574.6 2155.1 574.2 2159.8 576.7C2164.5 579.2 2172.3 585.9 2178.6 588.9C2184.9 591.9 2191.1 593.6 2197.4 594.5C2203.7 595.4 2210.9 595.4 2216.2 594.5C2221.5 593.6 2224.6 590.3 2229.3 588.9C2234.0 587.5 2239.9 586.8 2244.3 586.0C2248.7 585.2 2252.1 585.1 2255.6 584.2C2259.1 583.3 2263.8 581.0 2265.5 580.4" fill="none" stroke="#00AF68" stroke-width="8.2" stroke-linejoin="round" stroke-linecap="butt"/>
<path d="M126.0 674.9C141.4 674.9 183.3 674.9 218.3 674.9C253.3 674.9 306.7 674.7 336.2 674.9C365.7 675.1 372.2 675.6 395.1 675.9C418.0 676.2 459.0 676.3 473.7 676.5C488.4 676.7 478.6 675.9 483.5 676.9C488.4 677.9 496.6 680.8 503.2 682.8C509.8 684.8 516.6 686.8 522.8 688.6C529.0 690.4 535.6 693.1 540.5 693.6C545.4 694.1 549.0 692.2 552.3 691.6C555.5 691.0 555.4 691.8 560.0 690.1C564.6 688.4 571.5 683.4 579.7 681.3C587.9 679.2 597.7 678.3 609.1 677.3C620.5 676.3 635.3 675.5 648.4 675.4C661.5 675.2 674.6 676.2 687.7 676.4C700.8 676.6 718.1 675.9 727.0 676.4C735.9 676.9 736.5 677.2 740.8 679.3C745.1 681.4 749.0 685.2 752.6 689.1C756.2 693.0 759.1 697.3 762.4 702.9C765.7 708.5 769.2 716.3 772.2 722.5C775.2 728.7 777.8 736.3 780.1 740.2C782.4 744.1 784.0 745.6 786.0 746.1C788.0 746.6 789.6 746.5 791.9 743.2C794.2 739.9 797.1 730.9 799.7 726.5C802.3 722.1 805.1 720.2 807.6 716.6C810.1 713.0 812.2 706.1 814.5 704.8C816.8 703.5 819.1 706.7 821.4 708.8C823.7 710.9 826.1 717.0 828.2 717.6C830.3 718.2 832.3 716.1 834.1 712.7C835.9 709.3 836.9 701.8 839.0 697.0C841.1 692.2 842.6 687.0 846.9 684.2C851.2 681.4 856.7 681.3 864.6 680.3C872.5 679.3 882.6 678.8 894.1 678.3C905.6 677.8 920.3 677.8 933.4 677.3C946.5 676.8 960.3 675.9 972.7 675.4C985.1 674.9 992.6 674.8 1007.7 674.4C1022.9 674.0 1048.2 673.3 1063.6 673.3C1079.0 673.3 1089.0 674.6 1100.0 674.6C1111.0 674.6 1121.0 673.3 1129.7 673.3C1138.4 673.3 1139.9 674.4 1152.4 674.6C1164.9 674.8 1188.8 674.9 1204.8 674.6C1220.8 674.3 1236.8 673.0 1248.5 673.0C1260.2 673.0 1260.2 674.7 1274.7 674.6C1289.2 674.5 1318.3 672.7 1335.8 672.5C1353.3 672.3 1363.5 672.8 1379.5 673.3C1395.5 673.8 1421.8 675.2 1431.9 675.6C1442.0 676.0 1433.7 675.1 1440.0 675.4C1446.3 675.7 1461.3 676.3 1469.5 677.3C1477.7 678.3 1484.2 679.8 1489.1 681.3C1494.0 682.8 1496.4 683.8 1499.0 686.2C1501.6 688.7 1503.2 690.6 1504.8 696.0C1506.4 701.4 1507.5 708.9 1508.8 718.6C1510.1 728.3 1511.5 742.9 1512.7 754.0C1513.9 765.1 1514.7 776.6 1515.7 785.4C1516.7 794.2 1517.5 802.7 1518.6 807.0C1519.7 811.3 1520.9 811.6 1522.5 811.0C1524.1 810.4 1526.6 805.4 1528.4 803.1C1530.2 800.8 1531.7 797.2 1533.3 797.2C1534.9 797.2 1536.6 801.1 1538.3 803.1C1540.0 805.1 1541.7 810.3 1543.2 809.0C1544.7 807.7 1546.0 802.1 1547.1 795.2C1548.2 788.3 1548.8 775.9 1550.0 767.7C1551.2 759.5 1552.3 751.3 1554.0 746.1C1555.7 740.9 1558.3 739.9 1559.9 736.3C1561.5 732.7 1562.5 728.8 1563.8 724.5C1565.1 720.2 1565.4 715.0 1567.7 710.7C1570.0 706.5 1574.0 702.4 1577.6 699.0C1581.2 695.6 1585.7 692.1 1589.3 690.1C1592.9 688.1 1595.9 687.2 1599.2 687.2C1602.5 687.2 1606.0 688.1 1609.0 690.1C1612.0 692.1 1614.6 695.6 1616.9 699.0C1619.2 702.4 1620.8 704.8 1622.8 710.7C1624.8 716.6 1626.6 726.1 1628.6 734.3C1630.5 742.5 1632.5 752.0 1634.5 759.9C1636.5 767.8 1638.4 778.2 1640.4 781.5C1642.4 784.8 1644.3 782.1 1646.3 779.5C1648.3 776.9 1650.2 772.3 1652.2 765.8C1654.2 759.2 1656.1 748.7 1658.1 740.2C1660.1 731.7 1662.4 719.9 1664.0 714.7C1665.6 709.5 1666.3 708.5 1667.9 708.8C1669.5 709.1 1671.5 713.3 1673.8 716.6C1676.1 719.9 1679.1 724.8 1681.7 728.4C1684.3 732.0 1687.3 738.3 1689.6 738.3C1691.9 738.3 1693.5 732.7 1695.5 728.4C1697.5 724.1 1699.5 715.7 1701.4 712.7C1703.4 709.8 1705.6 710.5 1707.2 710.7C1708.8 710.9 1709.6 714.5 1711.2 713.7C1712.8 712.9 1715.0 706.0 1717.1 705.8C1719.2 705.6 1721.9 712.2 1724.0 712.7C1726.1 713.2 1728.0 708.6 1729.8 708.8C1731.6 709.0 1733.0 711.2 1734.8 713.7C1736.6 716.2 1737.4 721.7 1740.7 723.5C1744.0 725.3 1750.8 723.2 1754.4 724.5C1758.0 725.8 1760.3 728.1 1762.3 731.4C1764.3 734.7 1764.7 740.7 1766.2 744.1C1767.7 747.5 1769.1 751.5 1771.1 752.0C1773.1 752.5 1775.5 750.4 1778.0 747.1C1780.5 743.8 1783.8 732.9 1785.9 732.4C1788.0 731.9 1789.5 740.7 1790.8 744.1C1792.1 747.5 1791.9 751.0 1793.7 753.0C1795.5 755.0 1799.3 753.1 1801.6 755.9C1803.9 758.7 1805.5 763.5 1807.5 769.7C1809.5 775.9 1811.4 787.1 1813.4 793.3C1815.4 799.5 1817.3 803.9 1819.3 807.0C1821.3 810.1 1823.2 813.5 1825.2 811.9C1827.2 810.3 1828.7 802.6 1831.0 797.2C1833.3 791.8 1836.6 780.8 1838.9 779.5C1841.2 778.2 1843.0 788.1 1844.8 789.3C1846.6 790.5 1848.2 787.9 1850.0 786.5C1851.8 785.1 1853.7 780.2 1855.6 780.8C1857.5 781.4 1859.4 787.1 1861.3 790.2C1863.2 793.3 1865.0 799.9 1866.9 799.6C1868.8 799.3 1870.6 796.8 1872.5 788.3C1874.4 779.8 1876.3 758.9 1878.2 748.9C1880.1 738.9 1882.2 732.4 1883.8 728.3C1885.4 724.2 1886.0 723.9 1887.6 724.5C1889.2 725.1 1891.3 726.4 1893.2 732.0C1895.1 737.6 1896.9 751.1 1898.8 758.3C1900.7 765.5 1902.3 772.2 1904.5 775.2C1906.7 778.2 1910.0 778.3 1912.0 776.1C1914.0 773.9 1915.1 766.0 1916.7 762.1C1918.3 758.2 1919.4 753.3 1921.4 752.7C1923.4 752.1 1926.9 755.5 1928.9 758.3C1930.9 761.1 1932.0 764.3 1933.6 769.6C1935.2 774.9 1936.6 787.4 1938.3 790.2C1940.0 793.0 1942.4 791.8 1943.9 786.5C1945.5 781.2 1946.3 765.8 1947.6 758.3C1948.8 750.8 1949.8 744.1 1951.4 741.4C1953.0 738.7 1955.1 743.2 1957.0 742.3C1958.9 741.4 1960.8 738.1 1962.7 735.8C1964.6 733.5 1966.4 728.0 1968.3 728.3C1970.2 728.6 1972.2 735.3 1973.9 737.6C1975.6 739.9 1976.7 742.4 1978.6 742.3C1980.5 742.1 1982.8 739.0 1985.2 736.7C1987.6 734.4 1990.2 731.6 1992.7 728.3C1995.2 725.0 1997.7 720.0 2000.2 717.0C2002.7 714.0 2005.5 713.1 2007.7 710.4C2009.9 707.7 2011.2 702.9 2013.4 701.0C2015.6 699.1 2018.7 698.0 2020.9 699.1C2023.1 700.2 2024.3 707.8 2026.5 707.6C2028.7 707.5 2030.9 700.4 2034.0 698.2C2037.1 696.0 2041.5 695.0 2045.3 694.5C2049.1 694.0 2052.1 695.7 2056.5 695.4C2060.9 695.1 2066.3 692.8 2071.6 692.6C2076.9 692.5 2084.8 692.9 2088.5 694.5C2092.2 696.1 2092.5 696.4 2094.1 702.0C2095.7 707.6 2096.7 723.3 2097.9 728.3C2099.2 733.3 2100.3 734.5 2101.6 732.0C2102.8 729.5 2103.8 718.4 2105.4 713.2C2107.0 708.0 2108.8 702.4 2111.0 701.0C2113.2 699.6 2115.7 702.6 2118.5 704.8C2121.3 707.0 2124.8 713.9 2127.9 714.2C2131.0 714.5 2133.6 707.7 2137.3 706.7C2141.1 705.8 2146.7 707.6 2150.4 708.5C2154.2 709.4 2155.1 709.9 2159.8 712.3C2164.5 714.6 2172.3 719.8 2178.6 722.6C2184.9 725.4 2191.1 728.1 2197.4 729.2C2203.7 730.3 2210.9 730.3 2216.2 729.2C2221.5 728.1 2224.6 724.2 2229.3 722.6C2234.0 721.0 2239.9 720.6 2244.3 719.8C2248.7 719.0 2252.1 718.8 2255.6 717.9C2259.1 717.0 2263.8 715.2 2265.5 714.7" fill="none" stroke="#0372E6" stroke-width="8.2" stroke-linejoin="round" stroke-linecap="butt"/>
<path d="M126.0 809.5C144.7 809.5 201.2 809.5 237.9 809.5C274.6 809.5 319.8 809.2 346.0 809.5C372.2 809.8 373.8 810.9 395.1 811.4C416.4 811.9 458.3 812.1 473.7 812.4C489.1 812.7 482.6 812.4 487.5 813.4C492.4 814.4 497.3 816.7 503.2 818.3C509.1 819.9 516.6 821.8 522.8 823.2C529.0 824.6 535.6 826.4 540.5 826.8C545.4 827.2 549.0 826.3 552.3 825.6C555.5 824.9 555.4 824.4 560.0 822.8C564.6 821.2 571.5 817.9 579.7 815.9C587.9 813.9 597.7 812.0 609.1 811.0C620.5 810.0 635.3 810.2 648.4 810.0C661.5 809.8 674.6 809.8 687.7 810.0C700.8 810.2 718.1 810.4 727.0 811.0C735.9 811.6 736.5 811.9 740.8 813.9C745.1 815.9 749.0 818.7 752.6 822.8C756.2 826.9 759.1 832.6 762.4 838.5C765.7 844.4 769.2 852.5 772.2 858.1C775.2 863.7 777.9 868.8 780.1 871.9C782.3 875.0 783.3 877.8 785.6 876.8C787.9 875.8 791.4 869.4 793.8 866.0C796.1 862.6 797.4 859.2 799.7 856.2C802.0 853.2 805.3 851.2 807.6 848.3C809.9 845.3 811.2 839.1 813.5 838.5C815.8 837.9 819.1 842.1 821.4 844.4C823.7 846.7 825.2 852.2 827.2 852.2C829.2 852.2 831.1 848.3 833.1 844.4C835.1 840.5 836.7 832.9 839.0 828.6C841.3 824.3 842.6 820.9 846.9 818.8C851.2 816.7 856.7 816.7 864.6 815.9C872.5 815.1 882.6 814.6 894.1 813.9C905.6 813.2 920.3 812.7 933.4 811.9C946.5 811.1 960.3 809.5 972.7 809.0C985.1 808.5 987.9 808.8 1007.7 808.8C1027.5 808.8 1076.1 808.7 1091.5 808.8C1106.9 808.9 1089.8 809.4 1100.0 809.6C1110.2 809.8 1134.9 810.1 1152.4 810.1C1169.9 810.1 1187.3 810.0 1204.8 809.6C1222.3 809.2 1239.7 807.6 1257.2 807.5C1274.7 807.4 1295.9 809.2 1309.6 809.2C1323.3 809.2 1327.6 807.6 1339.3 807.5C1351.0 807.4 1364.1 807.9 1379.5 808.3C1394.9 808.7 1421.8 809.6 1431.9 810.1C1442.0 810.6 1433.7 810.9 1440.0 811.3C1446.3 811.6 1461.3 811.4 1469.5 812.2C1477.7 813.0 1484.2 814.7 1489.1 816.2C1494.0 817.7 1496.4 818.7 1499.0 821.1C1501.6 823.5 1503.2 825.7 1504.8 830.9C1506.4 836.1 1507.5 842.4 1508.8 852.5C1510.1 862.6 1511.4 878.4 1512.7 891.8C1514.0 905.2 1515.3 922.3 1516.6 933.1C1517.9 943.9 1519.3 953.1 1520.6 956.7C1521.9 960.3 1523.2 957.3 1524.5 954.7C1525.8 952.1 1527.1 945.9 1528.4 941.0C1529.7 936.1 1531.1 928.7 1532.4 925.2C1533.7 921.8 1535.0 920.9 1536.3 920.3C1537.6 919.6 1538.9 922.1 1540.2 921.3C1541.5 920.5 1542.8 919.0 1544.1 915.4C1545.4 911.8 1546.8 904.9 1548.1 899.7C1549.4 894.5 1550.7 888.3 1552.0 884.0C1553.3 879.7 1554.3 876.1 1555.9 874.1C1557.5 872.1 1560.2 874.2 1561.8 872.2C1563.4 870.2 1564.5 867.0 1565.8 862.4C1567.1 857.8 1567.7 849.3 1569.7 844.7C1571.7 840.1 1574.3 838.1 1577.6 834.8C1580.9 831.5 1585.4 827.3 1589.3 825.0C1593.2 822.7 1597.5 821.4 1601.1 821.1C1604.7 820.8 1608.0 821.1 1611.0 823.1C1614.0 825.1 1616.5 828.6 1618.8 832.9C1621.1 837.1 1622.7 842.0 1624.7 848.6C1626.7 855.2 1628.6 864.0 1630.6 872.2C1632.6 880.4 1634.5 892.1 1636.5 897.7C1638.5 903.3 1640.4 905.9 1642.4 905.6C1644.4 905.3 1646.3 900.7 1648.3 895.8C1650.3 890.9 1652.2 883.3 1654.2 876.1C1656.2 868.9 1658.0 859.0 1660.1 852.5C1662.2 846.0 1664.7 837.4 1667.0 836.8C1669.3 836.1 1671.3 844.3 1673.8 848.6C1676.2 852.9 1679.1 859.1 1681.7 862.4C1684.3 865.7 1687.3 868.6 1689.6 868.3C1691.9 868.0 1693.5 864.0 1695.5 860.4C1697.5 856.8 1699.5 849.0 1701.4 846.6C1703.4 844.2 1705.6 845.4 1707.2 845.7C1708.8 846.0 1709.7 849.4 1711.2 848.6C1712.7 847.8 1714.0 840.7 1716.1 840.7C1718.2 840.7 1721.7 847.9 1724.0 848.6C1726.3 849.3 1728.0 844.1 1729.8 844.7C1731.6 845.4 1733.0 849.4 1734.8 852.5C1736.6 855.6 1738.4 862.3 1740.7 863.3C1743.0 864.3 1745.9 859.5 1748.5 858.4C1751.1 857.3 1754.1 855.8 1756.4 856.5C1758.7 857.2 1760.7 859.1 1762.3 862.4C1763.9 865.7 1764.7 872.7 1766.2 876.1C1767.7 879.5 1769.1 882.5 1771.1 883.0C1773.1 883.5 1775.4 881.1 1778.0 879.1C1780.6 877.1 1784.5 870.7 1786.8 871.2C1789.1 871.7 1789.6 879.5 1791.7 882.0C1793.8 884.5 1797.0 882.9 1799.6 885.9C1802.2 888.9 1805.2 893.5 1807.5 899.7C1809.8 905.9 1811.4 916.8 1813.4 923.3C1815.4 929.8 1817.3 936.2 1819.3 939.0C1821.3 941.8 1823.2 942.0 1825.2 940.0C1827.2 938.0 1828.7 932.3 1831.0 927.2C1833.3 922.1 1836.6 910.1 1838.9 909.5C1841.2 908.9 1843.2 919.2 1844.8 923.3C1846.4 927.4 1847.8 932.7 1848.7 934.1C1849.6 935.5 1848.8 932.9 1850.0 931.5C1851.2 930.1 1853.7 925.6 1855.6 925.9C1857.5 926.2 1859.4 930.9 1861.3 933.4C1863.2 935.9 1865.0 941.2 1866.9 940.9C1868.8 940.6 1870.6 940.6 1872.5 931.5C1874.4 922.4 1876.3 898.0 1878.2 886.4C1880.1 874.8 1882.2 866.9 1883.8 862.0C1885.4 857.1 1886.0 856.7 1887.6 857.3C1889.2 857.9 1891.3 860.0 1893.2 865.8C1895.1 871.6 1896.9 885.2 1898.8 892.1C1900.7 899.0 1902.3 904.3 1904.5 907.1C1906.7 909.9 1910.0 911.2 1912.0 909.0C1914.0 906.8 1915.1 897.7 1916.7 893.9C1918.3 890.1 1919.4 886.7 1921.4 886.4C1923.4 886.1 1926.9 889.0 1928.9 892.1C1930.9 895.2 1932.0 899.9 1933.6 905.2C1935.2 910.5 1936.6 921.5 1938.3 924.0C1940.0 926.5 1942.4 925.5 1943.9 920.2C1945.5 914.9 1946.3 899.3 1947.6 892.1C1948.8 884.9 1949.8 879.2 1951.4 877.0C1953.0 874.8 1955.1 879.8 1957.0 878.9C1958.9 878.0 1960.8 874.2 1962.7 871.4C1964.6 868.6 1966.4 862.0 1968.3 862.0C1970.2 862.0 1972.2 869.2 1973.9 871.4C1975.6 873.6 1976.7 875.2 1978.6 875.2C1980.5 875.2 1982.8 873.9 1985.2 871.4C1987.6 868.9 1990.2 863.5 1992.7 860.1C1995.2 856.7 1997.7 853.2 2000.2 850.7C2002.7 848.2 2005.5 847.6 2007.7 845.1C2009.9 842.6 2011.2 837.4 2013.4 835.7C2015.6 834.0 2018.7 833.7 2020.9 834.8C2023.1 835.9 2024.3 842.6 2026.5 842.3C2028.7 842.0 2030.9 835.1 2034.0 832.9C2037.1 830.7 2041.5 829.6 2045.3 829.1C2049.1 828.6 2052.1 830.4 2056.5 830.1C2060.9 829.8 2066.3 827.5 2071.6 827.3C2076.9 827.1 2084.8 827.4 2088.5 829.1C2092.2 830.8 2092.5 832.4 2094.1 837.6C2095.7 842.8 2096.7 856.0 2097.9 860.1C2099.2 864.2 2100.3 864.2 2101.6 862.0C2102.8 859.8 2103.8 851.5 2105.4 847.0C2107.0 842.5 2108.8 836.0 2111.0 834.8C2113.2 833.5 2115.7 836.9 2118.5 839.5C2121.3 842.1 2124.8 850.6 2127.9 850.7C2131.0 850.9 2133.6 841.8 2137.3 840.4C2141.1 839.0 2146.7 841.4 2150.4 842.3C2154.2 843.2 2155.1 843.6 2159.8 846.0C2164.5 848.4 2172.3 853.9 2178.6 856.4C2184.9 858.9 2191.1 860.2 2197.4 861.1C2203.7 862.0 2210.9 863.1 2216.2 862.0C2221.5 860.9 2224.6 856.1 2229.3 854.5C2234.0 852.9 2239.9 853.4 2244.3 852.6C2248.7 851.8 2252.1 850.7 2255.6 849.8C2259.1 848.9 2263.8 847.5 2265.5 847.0" fill="none" stroke="#FF4040" stroke-width="8.2" stroke-linejoin="round" stroke-linecap="butt"/>
<path d="M126.0 944.7C147.9 944.4 220.9 943.2 257.6 943.1C294.3 943.0 319.8 943.5 346.0 944.1C372.2 944.8 391.9 946.5 414.8 947.0C437.7 947.5 468.8 946.2 483.5 947.0C498.2 947.8 496.6 950.4 503.2 951.9C509.8 953.4 516.9 954.9 522.8 955.9C528.7 956.9 533.7 957.6 538.6 957.8C543.5 958.0 548.7 957.2 552.3 956.9C555.9 956.6 555.4 957.3 560.0 956.0C564.6 954.7 571.5 951.1 579.7 949.1C587.9 947.1 597.7 945.2 609.1 944.2C620.5 943.2 635.3 943.2 648.4 943.2C661.5 943.2 674.6 943.5 687.7 944.2C700.8 944.9 718.1 946.2 727.0 947.2C735.9 948.2 736.5 948.1 740.8 950.1C745.1 952.1 749.0 954.9 752.6 959.0C756.2 963.1 759.1 968.8 762.4 974.7C765.7 980.6 769.2 988.4 772.2 994.3C775.2 1000.2 777.8 1006.7 780.1 1010.0C782.4 1013.3 784.0 1014.0 786.0 1014.0C788.0 1014.0 789.6 1013.3 791.9 1010.0C794.2 1006.7 797.1 998.9 799.7 994.3C802.3 989.7 805.1 986.1 807.6 982.5C810.1 978.9 812.2 973.4 814.5 972.7C816.8 972.1 819.3 976.5 821.4 978.6C823.5 980.7 825.2 984.9 827.2 985.5C829.2 986.1 831.1 985.6 833.1 982.5C835.1 979.4 836.7 971.2 839.0 966.8C841.3 962.4 842.6 958.6 846.9 956.0C851.2 953.4 856.7 952.4 864.6 951.1C872.5 949.8 882.6 948.8 894.1 948.1C905.6 947.5 920.3 947.9 933.4 947.2C946.5 946.6 960.3 945.1 972.7 944.2C985.1 943.3 992.6 942.3 1007.7 942.0C1022.9 941.7 1048.2 942.2 1063.6 942.6C1079.0 943.0 1088.1 943.7 1100.0 944.2C1111.9 944.7 1120.4 945.5 1134.9 945.6C1149.5 945.7 1166.9 945.2 1187.3 944.6C1207.7 944.0 1239.7 942.1 1257.2 942.1C1274.7 942.1 1278.4 944.6 1292.1 944.6C1305.8 944.6 1326.2 942.4 1339.3 942.1C1352.4 941.8 1355.3 942.4 1370.7 942.8C1386.1 943.2 1420.4 944.0 1431.9 944.6C1443.5 945.2 1433.7 945.6 1440.0 946.2C1446.3 946.8 1461.3 947.1 1469.5 948.1C1477.7 949.1 1484.2 950.6 1489.1 952.1C1494.0 953.6 1497.0 955.7 1499.0 957.0C1501.0 958.3 1500.2 957.0 1501.4 960.0C1502.6 963.0 1505.2 969.9 1506.3 974.8C1507.4 979.7 1507.6 983.9 1508.3 989.6C1509.0 995.4 1509.5 1002.7 1510.2 1009.3C1510.9 1015.9 1511.5 1021.6 1512.2 1029.0C1512.9 1036.4 1513.4 1045.4 1514.2 1053.6C1515.0 1061.8 1516.1 1070.8 1517.1 1078.2C1518.1 1085.6 1518.9 1094.6 1520.1 1097.9C1521.2 1101.2 1522.7 1101.2 1524.0 1097.9C1525.3 1094.6 1526.8 1084.0 1528.0 1078.2C1529.2 1072.5 1529.8 1067.3 1530.9 1063.4C1532.1 1059.5 1533.2 1056.1 1534.9 1054.6C1536.6 1053.1 1539.2 1055.6 1540.8 1054.6C1542.3 1053.6 1543.0 1052.2 1544.2 1048.7C1545.4 1045.2 1546.6 1039.7 1547.7 1033.9C1548.8 1028.2 1549.4 1019.3 1550.6 1014.2C1551.8 1009.1 1552.9 1005.8 1554.6 1003.3C1556.2 1000.8 1558.9 1001.7 1560.5 999.4C1562.1 997.1 1563.2 993.7 1564.4 989.6C1565.6 985.5 1565.8 978.4 1567.4 974.8C1569.1 971.2 1571.7 969.9 1574.3 967.9C1576.9 965.9 1578.7 965.1 1583.2 963.0C1587.7 960.9 1596.5 955.8 1601.1 955.0C1605.7 954.2 1608.0 956.0 1611.0 958.0C1614.0 960.0 1616.5 962.7 1618.8 966.8C1621.1 970.9 1622.7 976.3 1624.7 982.5C1626.7 988.7 1628.6 997.2 1630.6 1004.1C1632.6 1011.0 1634.5 1018.9 1636.5 1023.8C1638.5 1028.7 1640.4 1033.3 1642.4 1033.6C1644.4 1033.9 1646.3 1030.4 1648.3 1025.8C1650.3 1021.2 1652.2 1013.0 1654.2 1006.1C1656.2 999.2 1658.1 990.4 1660.1 984.5C1662.1 978.6 1664.0 972.0 1666.0 970.7C1668.0 969.4 1669.6 972.7 1671.9 976.6C1674.2 980.5 1677.1 990.4 1679.7 994.3C1682.3 998.2 1685.0 1000.5 1687.6 1000.2C1690.2 999.9 1693.2 995.7 1695.5 992.4C1697.8 989.1 1699.5 981.9 1701.4 980.6C1703.4 979.3 1704.9 985.5 1707.2 984.5C1709.5 983.5 1712.5 974.7 1715.1 974.7C1717.7 974.7 1720.5 983.9 1723.0 984.5C1725.5 985.1 1727.8 978.3 1729.8 978.6C1731.8 978.9 1733.0 983.1 1734.8 986.5C1736.6 989.9 1738.4 997.9 1740.7 999.2C1743.0 1000.5 1745.6 995.6 1748.5 994.3C1751.4 993.0 1755.7 990.7 1758.3 991.4C1760.9 992.1 1762.4 994.7 1764.2 998.3C1766.0 1001.9 1767.4 1010.5 1769.1 1013.0C1770.8 1015.5 1772.3 1013.0 1774.1 1013.0C1775.9 1013.0 1777.9 1014.0 1780.0 1013.0C1782.1 1012.0 1784.5 1006.3 1786.8 1007.1C1789.1 1007.9 1791.2 1015.8 1793.7 1017.9C1796.2 1020.0 1799.3 1017.3 1801.6 1019.9C1803.9 1022.5 1805.5 1026.7 1807.5 1033.6C1809.5 1040.5 1811.8 1054.5 1813.4 1061.1C1815.0 1067.6 1815.3 1070.9 1817.3 1072.9C1819.3 1074.9 1822.6 1075.9 1825.2 1072.9C1827.8 1070.0 1830.7 1060.4 1833.0 1055.2C1835.3 1050.0 1837.1 1041.2 1838.9 1041.5C1840.7 1041.8 1842.5 1052.0 1843.8 1057.2C1845.1 1062.4 1845.8 1070.3 1846.8 1072.9C1847.8 1075.5 1848.5 1073.8 1850.0 1072.8C1851.5 1071.8 1853.7 1067.1 1855.6 1067.1C1857.5 1067.1 1859.4 1070.4 1861.3 1072.8C1863.2 1075.2 1865.0 1081.2 1866.9 1081.2C1868.8 1081.2 1870.6 1081.1 1872.5 1072.8C1874.4 1064.5 1876.3 1043.6 1878.2 1031.4C1880.1 1019.2 1882.2 1005.8 1883.8 999.5C1885.4 993.2 1886.0 993.6 1887.6 993.9C1889.2 994.2 1891.3 995.8 1893.2 1001.4C1895.1 1007.0 1896.9 1021.1 1898.8 1027.7C1900.7 1034.3 1902.3 1038.5 1904.5 1040.8C1906.7 1043.1 1910.0 1044.0 1912.0 1041.8C1914.0 1039.6 1915.1 1031.3 1916.7 1027.7C1918.3 1024.1 1919.4 1020.7 1921.4 1020.2C1923.4 1019.7 1926.9 1022.4 1928.9 1024.9C1930.9 1027.4 1932.0 1030.4 1933.6 1035.2C1935.2 1040.0 1936.6 1051.5 1938.3 1054.0C1940.0 1056.5 1942.4 1055.2 1943.9 1050.2C1945.5 1045.2 1946.3 1030.9 1947.6 1023.9C1948.8 1016.9 1949.8 1010.8 1951.4 1008.0C1953.0 1005.2 1955.1 1008.1 1957.0 1007.0C1958.9 1005.9 1960.8 1003.4 1962.7 1001.4C1964.6 999.4 1966.4 994.2 1968.3 994.8C1970.2 995.4 1972.2 1003.3 1973.9 1005.2C1975.6 1007.1 1976.1 1006.1 1978.6 1006.1C1981.1 1006.1 1986.0 1007.6 1989.0 1005.2C1992.0 1002.9 1993.7 995.8 1996.5 992.0C1999.3 988.2 2003.1 985.9 2005.9 982.6C2008.7 979.3 2010.9 974.5 2013.4 972.3C2015.9 970.1 2018.7 969.2 2020.9 969.5C2023.1 969.8 2024.3 974.7 2026.5 974.2C2028.7 973.7 2030.9 968.3 2034.0 966.7C2037.1 965.1 2041.5 965.0 2045.3 964.8C2049.1 964.6 2052.1 966.0 2056.5 965.7C2060.9 965.4 2066.3 963.0 2071.6 962.9C2076.9 962.8 2084.8 963.1 2088.5 964.8C2092.2 966.5 2092.5 968.7 2094.1 973.2C2095.7 977.7 2096.7 988.4 2097.9 992.0C2099.2 995.6 2100.3 997.0 2101.6 994.8C2102.8 992.6 2103.8 983.3 2105.4 978.9C2107.0 974.5 2108.8 969.1 2111.0 968.5C2113.2 967.9 2115.7 972.3 2118.5 975.1C2121.3 977.9 2124.8 985.4 2127.9 985.4C2131.0 985.4 2133.6 976.7 2137.3 975.1C2141.1 973.5 2146.7 975.5 2150.4 976.0C2154.2 976.5 2155.1 976.2 2159.8 977.9C2164.5 979.6 2172.3 984.0 2178.6 986.4C2184.9 988.8 2191.1 990.9 2197.4 992.0C2203.7 993.1 2210.9 993.7 2216.2 992.9C2221.5 992.1 2224.6 988.8 2229.3 987.3C2234.0 985.8 2239.9 984.4 2244.3 983.6C2248.7 982.8 2252.1 983.1 2255.6 982.6C2259.1 982.1 2263.8 980.8 2265.5 980.4" fill="none" stroke="#757575" stroke-width="8.2" stroke-linejoin="round" stroke-linecap="butt"/>
<path d="M126.0 1080.7C138.4 1080.8 177.5 1081.0 200.7 1081.0C223.9 1081.0 243.8 1080.5 265.4 1080.4C286.9 1080.4 307.1 1080.0 330.0 1080.7C352.9 1081.4 378.5 1084.2 402.7 1084.7C426.9 1085.2 460.6 1083.6 475.4 1083.9C490.2 1084.2 481.4 1085.0 491.6 1086.4C501.8 1087.8 526.0 1091.9 536.8 1092.3C547.6 1092.7 552.3 1089.2 556.2 1088.8C560.1 1088.3 556.1 1090.1 560.0 1089.6C563.9 1089.1 571.5 1087.0 579.7 1085.7C587.9 1084.4 597.7 1082.6 609.1 1081.8C620.5 1081.0 636.9 1081.1 648.4 1080.8C659.9 1080.5 666.4 1079.6 677.9 1079.8C689.4 1080.0 707.4 1081.3 717.2 1081.8C727.0 1082.3 731.7 1081.5 736.9 1082.8C742.1 1084.1 745.0 1086.0 748.6 1089.6C752.2 1093.2 755.2 1098.7 758.5 1104.4C761.8 1110.1 765.3 1118.4 768.3 1124.0C771.2 1129.6 773.9 1135.8 776.2 1137.8C778.5 1139.8 778.8 1139.1 782.1 1135.8C785.4 1132.5 792.2 1122.0 795.8 1118.1C799.4 1114.2 801.2 1114.5 803.7 1112.2C806.2 1109.9 808.5 1104.4 810.5 1104.4C812.5 1104.4 813.7 1110.1 815.5 1112.2C817.3 1114.3 819.4 1117.1 821.4 1117.1C823.4 1117.1 824.9 1115.3 827.2 1112.2C829.5 1109.1 832.5 1102.8 835.1 1098.5C837.7 1094.2 838.1 1089.3 843.0 1086.7C847.9 1084.1 856.1 1083.8 864.6 1082.8C873.1 1081.8 882.6 1081.3 894.1 1080.8C905.6 1080.3 920.3 1080.3 933.4 1079.8C946.5 1079.3 960.3 1078.3 972.7 1077.8C985.1 1077.3 992.6 1077.0 1007.7 1077.0C1022.9 1077.0 1048.2 1077.5 1063.6 1077.9C1079.0 1078.3 1088.1 1079.4 1100.0 1079.6C1111.9 1079.8 1120.4 1079.2 1134.9 1079.2C1149.5 1079.2 1166.9 1079.8 1187.3 1079.6C1207.7 1079.4 1236.8 1078.5 1257.2 1078.3C1277.6 1078.1 1292.1 1078.3 1309.6 1078.3C1327.1 1078.3 1344.5 1078.2 1362.0 1078.5C1379.5 1078.8 1399.9 1079.6 1414.4 1080.1C1429.0 1080.6 1443.4 1081.2 1449.3 1081.3C1455.2 1081.4 1446.6 1080.3 1450.0 1080.5C1453.4 1080.7 1463.2 1081.3 1469.7 1082.4C1476.2 1083.5 1484.4 1085.5 1489.3 1087.3C1494.2 1089.1 1496.6 1090.2 1499.1 1093.2C1501.5 1096.2 1502.3 1097.5 1504.0 1105.0C1505.7 1112.5 1507.5 1124.6 1509.0 1138.4C1510.5 1152.2 1511.6 1171.2 1512.9 1187.6C1514.2 1204.0 1515.8 1225.2 1516.8 1236.7C1517.8 1248.2 1518.4 1254.7 1519.2 1256.3C1520.0 1257.9 1520.8 1253.0 1521.7 1246.5C1522.6 1240.0 1523.6 1224.9 1524.7 1217.0C1525.8 1209.1 1527.3 1204.5 1528.6 1199.3C1529.9 1194.1 1531.0 1188.9 1532.5 1185.6C1534.0 1182.3 1535.8 1180.5 1537.4 1179.7C1539.1 1178.9 1541.1 1181.7 1542.4 1180.7C1543.7 1179.7 1544.3 1178.2 1545.3 1173.8C1546.3 1169.4 1547.1 1160.3 1548.3 1154.1C1549.5 1147.9 1550.7 1140.1 1552.2 1136.5C1553.7 1132.9 1555.6 1133.5 1557.1 1132.5C1558.6 1131.5 1559.8 1133.2 1561.0 1130.6C1562.2 1128.0 1562.5 1120.7 1564.0 1116.8C1565.5 1112.9 1567.3 1110.1 1569.9 1107.0C1572.5 1103.9 1575.5 1100.9 1579.7 1098.1C1584.0 1095.3 1590.8 1091.6 1595.4 1090.3C1600.0 1089.0 1603.9 1089.5 1607.2 1090.3C1610.5 1091.1 1612.8 1092.8 1615.1 1095.2C1617.4 1097.7 1619.0 1100.8 1621.0 1105.0C1623.0 1109.2 1624.9 1114.8 1626.9 1120.7C1628.9 1126.6 1630.7 1134.0 1632.8 1140.4C1634.9 1146.8 1637.5 1156.5 1639.6 1159.1C1641.7 1161.7 1643.4 1159.9 1645.5 1156.1C1647.6 1152.3 1650.3 1143.0 1652.4 1136.5C1654.5 1130.0 1656.5 1122.2 1658.3 1116.8C1660.1 1111.4 1661.6 1105.6 1663.2 1104.0C1664.8 1102.4 1666.3 1104.2 1668.1 1107.0C1669.9 1109.8 1672.2 1117.3 1674.0 1120.7C1675.8 1124.1 1676.9 1125.9 1678.9 1127.6C1680.9 1129.2 1683.7 1131.1 1685.8 1130.6C1687.9 1130.1 1689.4 1127.5 1691.7 1124.7C1694.0 1121.9 1697.1 1114.2 1699.6 1113.9C1702.0 1113.6 1704.1 1123.2 1706.4 1122.7C1708.7 1122.2 1711.0 1110.9 1713.3 1110.9C1715.6 1110.9 1717.9 1122.1 1720.2 1122.7C1722.5 1123.3 1725.0 1113.8 1727.1 1114.8C1729.2 1115.8 1731.2 1123.8 1733.0 1128.6C1734.8 1133.3 1736.3 1142.6 1737.9 1143.3C1739.5 1144.0 1741.0 1135.3 1742.8 1132.5C1744.6 1129.7 1746.7 1128.2 1748.7 1126.6C1750.7 1125.0 1752.3 1121.7 1754.6 1122.7C1756.9 1123.7 1760.4 1129.1 1762.4 1132.5C1764.4 1135.9 1764.8 1142.0 1766.4 1143.3C1768.1 1144.6 1770.5 1140.6 1772.3 1140.4C1774.1 1140.2 1775.7 1140.1 1777.2 1142.4C1778.7 1144.7 1779.3 1154.1 1781.1 1154.1C1782.9 1154.1 1785.5 1143.2 1788.0 1142.4C1790.5 1141.6 1793.6 1146.9 1795.9 1149.2C1798.2 1151.5 1799.8 1151.3 1801.7 1156.1C1803.7 1160.8 1805.6 1167.5 1807.6 1177.7C1809.6 1187.9 1811.8 1209.0 1813.5 1217.0C1815.2 1225.0 1815.8 1226.2 1817.5 1225.9C1819.2 1225.6 1821.1 1220.8 1823.4 1215.1C1825.7 1209.4 1829.1 1196.8 1831.2 1191.5C1833.3 1186.2 1834.5 1183.6 1836.1 1183.6C1837.7 1183.6 1839.5 1184.3 1841.0 1191.5C1842.5 1198.7 1844.0 1220.2 1845.0 1226.9C1846.0 1233.6 1846.1 1232.9 1846.9 1231.8C1847.7 1230.7 1848.7 1222.7 1850.0 1220.3C1851.3 1217.9 1853.1 1216.9 1854.7 1217.4C1856.3 1217.9 1857.7 1221.5 1859.4 1223.1C1861.1 1224.7 1863.3 1227.3 1865.0 1226.8C1866.7 1226.3 1868.5 1226.4 1869.7 1220.3C1871.0 1214.2 1871.4 1199.9 1872.5 1190.2C1873.6 1180.5 1874.9 1170.9 1876.3 1162.1C1877.7 1153.3 1879.4 1143.1 1881.0 1137.6C1882.6 1132.1 1884.1 1129.2 1885.7 1129.2C1887.3 1129.2 1888.8 1132.4 1890.4 1137.6C1892.0 1142.8 1893.4 1153.9 1895.1 1160.2C1896.8 1166.5 1898.5 1172.2 1900.7 1175.2C1902.9 1178.2 1906.2 1178.6 1908.2 1178.0C1910.2 1177.4 1911.5 1174.7 1912.9 1171.4C1914.3 1168.1 1915.3 1160.2 1916.7 1158.3C1918.1 1156.4 1919.4 1159.0 1921.4 1160.2C1923.4 1161.5 1927.0 1162.4 1928.9 1165.8C1930.8 1169.2 1931.5 1175.8 1932.6 1180.8C1933.7 1185.8 1934.2 1194.3 1935.4 1195.9C1936.7 1197.5 1938.7 1194.9 1940.1 1190.2C1941.5 1185.5 1942.7 1174.6 1943.9 1167.7C1945.2 1160.8 1946.2 1153.0 1947.6 1148.9C1949.0 1144.8 1950.6 1144.7 1952.3 1143.3C1954.0 1141.9 1956.3 1142.4 1958.0 1140.5C1959.7 1138.6 1961.3 1133.7 1962.7 1132.0C1964.1 1130.3 1965.0 1129.2 1966.4 1130.1C1967.8 1131.0 1969.7 1135.6 1971.1 1137.6C1972.5 1139.6 1973.5 1141.8 1974.9 1142.3C1976.3 1142.8 1977.9 1140.0 1979.6 1140.5C1981.3 1141.0 1983.3 1146.0 1985.2 1145.2C1987.1 1144.4 1988.9 1139.2 1990.8 1135.8C1992.7 1132.3 1994.6 1127.0 1996.5 1124.5C1998.4 1122.0 2000.5 1122.0 2002.1 1120.7C2003.7 1119.5 2004.3 1119.3 2005.9 1117.0C2007.5 1114.7 2009.6 1108.9 2011.5 1106.7C2013.4 1104.5 2015.1 1103.2 2017.1 1103.8C2019.1 1104.4 2021.5 1110.2 2023.7 1110.4C2025.9 1110.6 2028.0 1106.4 2030.3 1104.8C2032.6 1103.2 2035.0 1101.6 2037.8 1101.0C2040.6 1100.4 2044.1 1101.0 2047.2 1101.0C2050.3 1101.0 2053.4 1101.3 2056.5 1101.0C2059.6 1100.7 2062.8 1098.9 2065.9 1099.1C2069.0 1099.3 2072.2 1101.2 2075.3 1102.0C2078.4 1102.8 2082.2 1103.3 2084.7 1103.8C2087.2 1104.3 2088.7 1102.3 2090.3 1104.8C2091.9 1107.3 2092.8 1114.7 2094.1 1118.9C2095.4 1123.1 2096.5 1130.1 2097.9 1130.1C2099.3 1130.1 2101.1 1123.0 2102.6 1118.9C2104.1 1114.8 2105.5 1107.9 2107.2 1105.7C2108.9 1103.5 2110.7 1104.1 2112.9 1105.7C2115.1 1107.3 2118.2 1112.0 2120.4 1115.1C2122.6 1118.2 2124.1 1124.5 2126.0 1124.5C2127.9 1124.5 2130.1 1117.4 2131.7 1115.1C2133.3 1112.8 2133.5 1111.0 2135.4 1110.4C2137.3 1109.8 2140.4 1111.2 2142.9 1111.4C2145.4 1111.6 2147.6 1110.8 2150.4 1111.4C2153.2 1112.0 2156.7 1113.8 2159.8 1115.1C2162.9 1116.3 2165.4 1117.5 2169.2 1118.9C2173.0 1120.3 2177.7 1122.2 2182.4 1123.6C2187.1 1125.0 2191.8 1126.5 2197.4 1127.3C2203.0 1128.1 2211.5 1128.9 2216.2 1128.3C2220.9 1127.7 2223.0 1124.5 2225.5 1123.6C2228.0 1122.6 2229.0 1123.2 2231.2 1122.6C2233.4 1122.0 2236.5 1120.4 2238.7 1119.8C2240.9 1119.2 2241.8 1119.2 2244.3 1118.9C2246.8 1118.6 2250.9 1118.1 2253.7 1117.9C2256.5 1117.7 2259.0 1116.7 2261.2 1117.9C2263.4 1119.2 2266.2 1123.7 2266.9 1125.4C2267.6 1127.1 2265.7 1127.8 2265.5 1128.3" fill="none" stroke="#00CCCC" stroke-width="8.2" stroke-linejoin="round" stroke-linecap="butt"/>
<line x1="549.3" y1="169.3" x2="549.3" y2="1098.5" stroke="#000" stroke-width="6.7" stroke-dasharray="26.5 24.05" stroke-dashoffset="7.5"/>
<line x1="779.3" y1="176.4" x2="779.3" y2="1162.6" stroke="#000" stroke-width="6.7" stroke-dasharray="26.5 24.05" stroke-dashoffset="0.7"/>
<line x1="830.4" y1="180.2" x2="830.4" y2="1166.4" stroke="#000" stroke-width="6.7" stroke-dasharray="26.5 24.05" stroke-dashoffset="0.0"/>
<line x1="1193.4" y1="172.8" x2="1193.4" y2="1093.7" stroke="#000" stroke-width="6.7" stroke-dasharray="26.5 24.05" stroke-dashoffset="15.6"/>
<line x1="1518.5" y1="333.2" x2="1518.5" y2="1256.3" stroke="#000" stroke-width="6.7" stroke-dasharray="26.5 24.05" stroke-dashoffset="12.3"/>
<line x1="1543.8" y1="166.2" x2="1543.8" y2="1144.3" stroke="#000" stroke-width="6.7" stroke-dasharray="26.5 24.05" stroke-dashoffset="7.9"/>
<line x1="1637.3" y1="229.5" x2="1637.3" y2="1152.2" stroke="#000" stroke-width="6.7" stroke-dasharray="26.5 24.05" stroke-dashoffset="13.4"/>
<line x1="1821.2" y1="235.2" x2="1821.2" y2="1222.5" stroke="#000" stroke-width="6.7" stroke-dasharray="26.5 24.05" stroke-dashoffset="1.0"/>
<line x1="1867.4" y1="236.2" x2="1867.4" y2="1222.5" stroke="#000" stroke-width="6.7" stroke-dasharray="26.5 24.05" stroke-dashoffset="1.0"/>
<line x1="644.1" y1="169.3" x2="764.9" y2="275.2" stroke="#000" stroke-width="6.0"/>
<path d="M778.4 287.1L755.5 281.3L769.7 265.2Z" fill="#000"/>
<line x1="962" y1="173.1" x2="845.2" y2="245.1" stroke="#000" stroke-width="5.1"/>
<path d="M826.5 256.7L842.8 235.5L852.8 251.7Z" fill="#000"/>
<line x1="1316.1" y1="155.2" x2="1204.6" y2="347.1" stroke="#000" stroke-width="6.2"/>
<path d="M1195.6 362.7L1196.8 339.1L1215.4 349.9Z" fill="#000"/>
<line x1="1631.5" y1="169.2" x2="1548.1" y2="526.0" stroke="#000" stroke-width="4.7"/>
<path d="M1544.0 543.5L1538.3 520.6L1559.2 525.5Z" fill="#000"/>
<line x1="1829.7" y1="110.2" x2="1665.4" y2="238.3" stroke="#000" stroke-width="4.6"/>
<path d="M1651.2 249.4L1661.1 228.0L1674.4 245.0Z" fill="#000"/>
<line x1="2022.9" y1="183.9" x2="1849.3" y2="304.3" stroke="#000" stroke-width="3.9"/>
<path d="M1820.5 324.2L1846.0 294.3L1857.4 310.8Z" fill="#000"/>
<line x1="477.8" y1="1150" x2="519.3" y2="1113.3" stroke="#000" stroke-width="4.8"/>
<path d="M532.8 1101.4L524.2 1123.4L509.9 1107.2Z" fill="#000"/>
<line x1="1333.5" y1="1267.1" x2="1486.0" y2="1233.7" stroke="#000" stroke-width="5.3"/>
<path d="M1503.6 1229.8L1485.4 1244.8L1480.8 1223.8Z" fill="#000"/>
<line x1="1983.6" y1="1274.7" x2="1890.1" y2="1227.6" stroke="#000" stroke-width="5.6"/>
<path d="M1874.5 1219.7L1897.2 1220.2L1888.4 1237.6Z" fill="#000"/>
<defs><filter id="bin" x="0" y="0" width="2345" height="1663" filterUnits="userSpaceOnUse"><feComponentTransfer><feFuncA type="discrete" tableValues="0 1"/></feComponentTransfer></filter></defs>
<g filter="url(#bin)">
<text transform="rotate(-90)" x="-1047.91" y="79.3" font-size="80" font-weight="bold" textLength="500.01" lengthAdjust="spacingAndGlyphs">Transmittance</text>
<text transform="rotate(-90)" x="-525.63" y="72.5" font-size="70" font-weight="bold" textLength="114.44" lengthAdjust="spacingAndGlyphs">(%)</text>
<text x="161.18" y="198" font-size="63.5" textLength="182.15" lengthAdjust="spacingAndGlyphs">HMDI</text>
<text x="159.78" y="381.5" font-size="63.5" textLength="149.65" lengthAdjust="spacingAndGlyphs">PU40</text>
<text x="159.78" y="517" font-size="63.5" textLength="149.65" lengthAdjust="spacingAndGlyphs">PU30</text>
<text x="159.37" y="652" font-size="63.5" textLength="149.57" lengthAdjust="spacingAndGlyphs">PU20</text>
<text x="159.57" y="788.6" font-size="63.5" textLength="148.67" lengthAdjust="spacingAndGlyphs">PU10</text>
<text x="159.55" y="922.4" font-size="63.5" textLength="119.10" lengthAdjust="spacingAndGlyphs">PU0</text>
<text x="159.53" y="1057.1" font-size="63.5" textLength="122.07" lengthAdjust="spacingAndGlyphs">PCL</text>
<text x="547.75" y="92.1" font-size="56" textLength="106.69" lengthAdjust="spacingAndGlyphs">-CH</text>
<text x="650.96" y="102.5" font-size="56" textLength="32.67" lengthAdjust="spacingAndGlyphs">2</text>
<text x="568.33" y="151.2" font-size="56" textLength="113.93" lengthAdjust="spacingAndGlyphs">2929</text>
<text x="925.04" y="101.4" font-size="56" textLength="105.69" lengthAdjust="spacingAndGlyphs">-CH</text>
<text x="1028.38" y="110.2" font-size="56" textLength="32.07" lengthAdjust="spacingAndGlyphs">2</text>
<text x="935.27" y="163.3" font-size="56" textLength="113.37" lengthAdjust="spacingAndGlyphs">2850</text>
<text x="1213.58" y="87" font-size="56" textLength="204.35" lengthAdjust="spacingAndGlyphs">-N=C=O</text>
<text x="1270.76" y="139.2" font-size="56" textLength="112.46" lengthAdjust="spacingAndGlyphs">2256</text>
<text x="1546.47" y="90" font-size="56" textLength="188.37" lengthAdjust="spacingAndGlyphs">amide I</text>
<text x="1584.33" y="154.3" font-size="56" textLength="111.34" lengthAdjust="spacingAndGlyphs">1680</text>
<text x="1810.59" y="90" font-size="56" textLength="202.02" lengthAdjust="spacingAndGlyphs">amide II</text>
<text x="1846.31" y="146" font-size="56" textLength="113.60" lengthAdjust="spacingAndGlyphs">1520</text>
<text x="2024.88" y="144.6" font-size="56" textLength="221.14" lengthAdjust="spacingAndGlyphs">amide III</text>
<text x="2081.91" y="209.8" font-size="53" textLength="103.00" lengthAdjust="spacingAndGlyphs">1230</text>
<text x="361.75" y="1197.8" font-size="63.5" textLength="125.99" lengthAdjust="spacingAndGlyphs">-NH</text>
<text x="357.91" y="1261.4" font-size="66" textLength="127.07" lengthAdjust="spacingAndGlyphs">3290</text>
<text x="1199.66" y="1268.5" font-size="56" textLength="112.08" lengthAdjust="spacingAndGlyphs">C=O</text>
<text x="1199.02" y="1327" font-size="56" textLength="111.77" lengthAdjust="spacingAndGlyphs">1720</text>
<text x="2005.26" y="1300.8" font-size="56" textLength="161.90" lengthAdjust="spacingAndGlyphs">C-O-C</text>
<text x="2030.58" y="1368.7" font-size="56" textLength="114.92" lengthAdjust="spacingAndGlyphs">1220</text>
<text x="55.98" y="1528" font-size="73" textLength="140.47" lengthAdjust="spacingAndGlyphs">4000</text>
<text x="359.98" y="1528" font-size="73" textLength="142.70" lengthAdjust="spacingAndGlyphs">3500</text>
<text x="665.51" y="1528" font-size="73" textLength="142.87" lengthAdjust="spacingAndGlyphs">3000</text>
<text x="972.32" y="1528" font-size="73" textLength="141.85" lengthAdjust="spacingAndGlyphs">2500</text>
<text x="1277.91" y="1528" font-size="73" textLength="141.88" lengthAdjust="spacingAndGlyphs">2000</text>
<text x="1580.46" y="1528" font-size="73" textLength="146.17" lengthAdjust="spacingAndGlyphs">1500</text>
<text x="1890.58" y="1528" font-size="73" textLength="142.23" lengthAdjust="spacingAndGlyphs">1000</text>
<text x="2213.19" y="1528" font-size="73" textLength="109.85" lengthAdjust="spacingAndGlyphs">500</text>
<text x="889.40" y="1628.6" font-size="77" font-weight="bold" textLength="466.40" lengthAdjust="spacingAndGlyphs">Wavenumber</text>
<text x="1379.87" y="1622.8" font-size="70" font-weight="bold" textLength="27.43" lengthAdjust="spacingAndGlyphs">(</text>
<text x="1405.37" y="1628.6" font-size="77" font-weight="bold" textLength="98.64" lengthAdjust="spacingAndGlyphs">cm</text>
<text x="1506.00" y="1596.5" font-size="50" font-weight="bold" textLength="43.35" lengthAdjust="spacingAndGlyphs">-1</text>
<text x="1546.61" y="1622.8" font-size="70" font-weight="bold" textLength="29.53" lengthAdjust="spacingAndGlyphs">)</text>
</g>
</svg>
</body></html>
